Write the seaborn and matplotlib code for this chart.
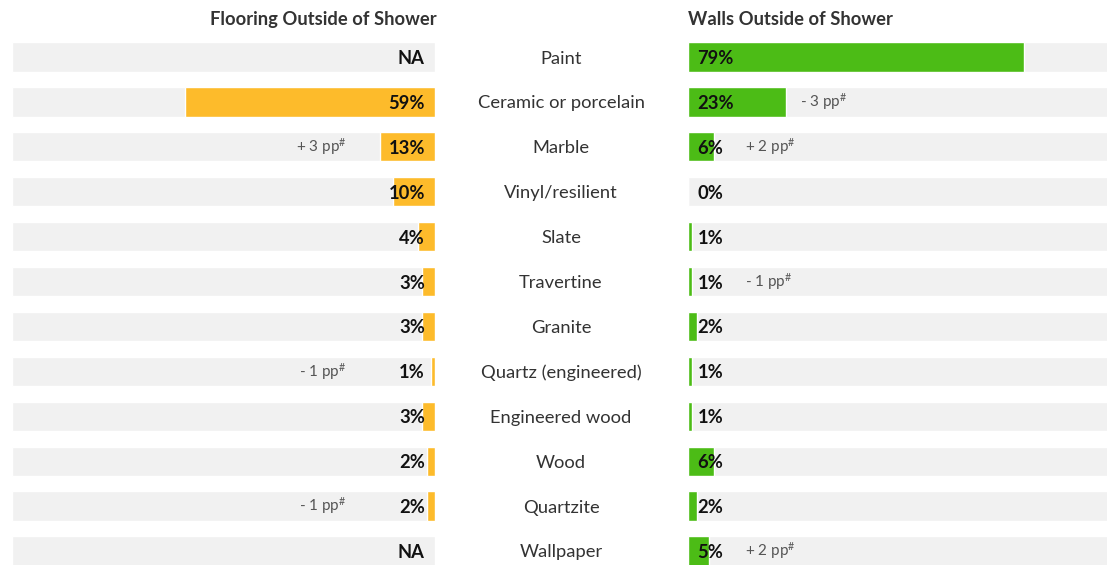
import matplotlib
matplotlib.use("Agg")
import matplotlib.pyplot as plt
import matplotlib.transforms as mtransforms
import seaborn as sns
import pandas as pd
import numpy as np

categories = ["Paint", "Ceramic or porcelain", "Marble", "Vinyl/resilient", "Slate",
              "Travertine", "Granite", "Quartz (engineered)", "Engineered wood",
              "Wood", "Quartzite", "Wallpaper"]
flooring = [None, 59, 13, 10, 4, 3, 3, 1, 3, 2, 2, None]
walls = [79, 23, 6, 0, 1, 1, 2, 1, 1, 6, 2, 5]
flooring_change = [None, None, "+ 3", None, None, None, None, "- 1", None, None, "- 1", None]
walls_change = [None, "- 3", "+ 2", None, None, "- 1", None, None, None, None, None, "+ 2"]
full_scale = [100] * len(categories)
title_left = "Flooring Outside of Shower"
title_right = "Walls Outside of Shower"

YELLOW = "#FDBB2B"
GREEN = "#4CBC16"
GRAY = "#F1F1F1"

sns.set_theme(style="white")
plt.rcParams["font.family"] = ["Lato", "DejaVu Sans"]
plt.rcParams["mathtext.default"] = "regular"

W, H = 1107, 565
fig = plt.figure(figsize=(W / 100, H / 100), dpi=100)

top_px = 57 - 22.45
bot_px = 551 + 22.45
ax_b = 1 - bot_px / H
ax_h = (bot_px - top_px) / H
axL = fig.add_axes([12 / W, ax_b, 423 / W, ax_h])
axR = fig.add_axes([688 / W, ax_b, 425 / W, ax_h])

df = pd.DataFrame({"cat": categories,
                   "floor": [np.nan if v is None else v for v in flooring],
                   "walls": walls, "full": full_scale})

for ax, col, color in [(axL, "floor", YELLOW), (axR, "walls", GREEN)]:
    sns.barplot(data=df, y="cat", x="full", color=GRAY, orient="h", width=0.65,
                ax=ax, saturation=1, errorbar=None)
    sns.barplot(data=df, y="cat", x=col, color=color, orient="h", width=0.65,
                ax=ax, saturation=1, errorbar=None)
    ax.set_xlim(0, 100)
    ax.set_ylim(len(categories) - 0.5, -0.5)
    ax.axis("off")

axL.invert_xaxis()

VAL_FS = 13.2
CAT_FS = 13.2
NOTE_FS = 11

for i, v in enumerate(flooring):
    txt = "NA" if v is None else f"{v}%"
    axL.text(2.4, i, txt, ha="right", va="center_baseline", fontsize=VAL_FS,
             fontweight="bold", color="#111111")
    ch = flooring_change[i]
    if ch:
        pos = max((v or 0) + 8, 21)
        axL.text(pos, i - 0.06, ch + " pp$^{\\#}$", ha="right", va="center_baseline",
                 fontsize=NOTE_FS, color="#555555")

for i, v in enumerate(walls):
    axR.text(2.2, i, f"{v}%", ha="left", va="center_baseline", fontsize=VAL_FS,
             fontweight="bold", color="#111111")
    ch = walls_change[i]
    if ch:
        pos = max(v + 3.4, 13.5)
        axR.text(pos, i - 0.06, ch + " pp$^{\\#}$", ha="left", va="center_baseline",
                 fontsize=NOTE_FS, color="#555555")

trans = mtransforms.blended_transform_factory(fig.transFigure, axL.transData)
for i, c in enumerate(categories):
    axL.text(561 / W, i, c, transform=trans, ha="center", va="center_baseline",
             fontsize=CAT_FS, color="#333333", clip_on=False)

fig.text(437 / W, 1 - 18 / H, title_left, ha="right", va="center_baseline", fontsize=13.2,
         fontweight="bold", color="#333333")
fig.text(688 / W, 1 - 18 / H, title_right, ha="left", va="center_baseline", fontsize=13.2,
         fontweight="bold", color="#333333")

fig.savefig("out.png", dpi=100)
